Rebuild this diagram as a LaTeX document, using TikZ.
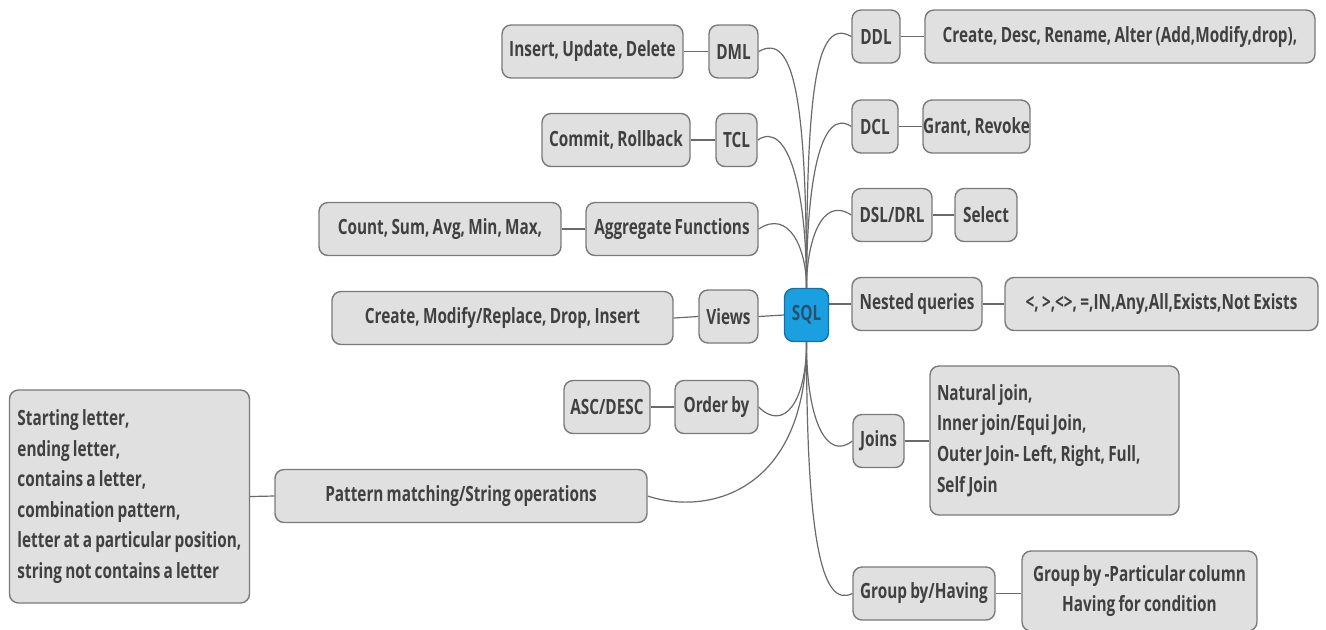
\documentclass[tikz,border=0pt]{standalone}
\usepackage{fontspec}
\setsansfont{Open Sans}[FakeStretch=0.73, WordSpace=0.8]
\definecolor{boxfill}{HTML}{E0E0E0}
\definecolor{boxline}{HTML}{7A7A7A}
\definecolor{boxtext}{HTML}{404040}
\definecolor{wirecol}{HTML}{6A6A6A}
\definecolor{sqlblue}{HTML}{1AA0E0}
\definecolor{sqlline}{HTML}{1670A8}
\definecolor{sqltext}{HTML}{2B4F6E}
\tikzset{
    topic/.style={draw=boxline, fill=boxfill, line width=0.7pt, rounded corners=4.5pt,
        minimum height=26.5pt, inner sep=0pt, align=center, text=boxtext,
        font=\fontsize{10.5}{15.3}\selectfont\sffamily\bfseries},
    root/.style={topic, fill=sqlblue, draw=sqlline},
    wire/.style={draw=wirecol, line width=0.6pt},
}

\begin{document}
\begin{tikzpicture}[x=0.5pt, y=-0.5pt]
                \useasboundingbox (0,0) rectangle (1326,629);
                % Centre and left side:
                \node[root, minimum width=22pt, text=sqltext] (sql) at (806.5,315) {SQL};
                \node[topic, minimum width=24.5pt] (dml) at (733.5,51.5) {DML};
                \node[topic, minimum width=90.5pt] (dmlops) at (592.5,51.5) {Insert, Update, Delete};
                \node[topic, minimum width=20.5pt] (tcl) at (736.5,140) {TCL};
                \node[topic, minimum width=74pt] (tclops) at (616,140) {Commit, Rollback};
                \node[topic, minimum width=86pt] (agg) at (672,229) {Aggregate Functions};
                \node[topic, minimum width=121pt] (aggops) at (440,229) {Count, Sum, Avg, Min, Max,};
                \node[topic, minimum width=29.5pt] (views) at (728.5,316.5) {Views};
                \node[topic, minimum width=170.5pt] (viewops) at (502.5,318) {Create, Modify/Replace, Drop, Insert};
                \node[topic, minimum width=41.5pt] (order) at (716.5,407) {Order by};
                \node[topic, minimum width=43pt] (ascdesc) at (607,407) {ASC/DESC};
                \node[topic, minimum width=186pt] (pattern) at (461,496) {Pattern matching/String operations};
                \node[topic, align=flush left, text width=112pt, inner xsep=4pt, minimum height=106.5pt] (patops) at (129.5,496.5)
                    {Starting letter,\\ending letter,\\contains a letter,\\combination pattern,\\letter at a particular position,\\string not contains a letter};
                % Right side:
                \node[topic, minimum width=24pt] (ddl) at (876,36.5) {DDL};
                \node[topic, minimum width=195pt] (ddlops) at (1120,36.5) {Create, Desc, Rename, Alter (Add,Modify,drop),};
                \node[topic, minimum width=23pt] (dcl) at (875,126.5) {DCL};
                \node[topic, minimum width=53.5pt] (dclops) at (976.5,126.5) {Grant, Revoke};
                \node[topic, minimum width=40pt] (dsl) at (892,215) {DSL/DRL};
                \node[topic, minimum width=31pt] (select) at (986,215) {Select};
                \node[topic, minimum width=65pt] (nested) at (917,304) {Nested queries};
                \node[topic, minimum width=156.5pt] (nestops) at (1161.5,304) {<, >,<>, =,IN,Any,All,Exists,Not Exists};
                \node[topic, minimum width=25.5pt] (joins) at (878.5,441) {Joins};
                \node[topic, align=flush left, text width=117.5pt, inner xsep=3.5pt, minimum height=74.5pt] (joinops) at (1054.5,440.5)
                    {Natural join,\\Inner join/Equi Join,\\Outer Join- Left, Right, Full,\\Self Join};
                \node[topic, minimum width=71pt] (group) at (924,593.5) {Group by/Having};
                \node[topic, minimum width=117.5pt, minimum height=40pt] (groupops) at (1139.5,591)
                    {Group by -Particular column\\Having for condition};
                % Wires from the centre:
                \draw[wire] (sql.north) .. controls +(0,-190) and +(35,-20) .. (dml.east);
                \draw[wire] (sql.north) .. controls +(0,-100) and +(30,-20) .. (tcl.east);
                \draw[wire] (sql.north) .. controls +(0,-40) and +(30,-20) .. (agg.east);
                \draw[wire] (sql.north) .. controls +(0,-200) and +(-35,-20) .. (ddl.west);
                \draw[wire] (sql.north) .. controls +(0,-110) and +(-30,-20) .. (dcl.west);
                \draw[wire] (sql.north) .. controls +(0,-45) and +(-30,-20) .. (dsl.west);
                \draw[wire] (sql.south) .. controls +(0,60) and +(25,25) .. (order.east);
                \draw[wire] (sql.south) .. controls +(0,150) and +(60,20) .. (pattern.east);
                \draw[wire] (sql.south) .. controls +(0,80) and +(-25,20) .. (joins.west);
                \draw[wire] (sql.south) .. controls +(0,200) and +(-30,15) .. (group.west);
                \draw[wire] (sql.west) -- (views.east);
                \draw[wire] (nested.west -| sql.east) -- (nested.west);
                % Wires to the leaves:
                \draw[wire] (dml.west) -- (dmlops.east);
                \draw[wire] (tcl.west) -- (tclops.east);
                \draw[wire] (agg.west) -- (aggops.east);
                \draw[wire] (views.west) -- (viewops.east);
                \draw[wire] (order.west) -- (ascdesc.east);
                \draw[wire] (pattern.west) -- (patops.east);
                \draw[wire] (ddl.east) -- (ddlops.west);
                \draw[wire] (dcl.east) -- (dclops.west);
                \draw[wire] (dsl.east) -- (select.west);
                \draw[wire] (nested.east) -- (nestops.west);
                \draw[wire] (joins.east) -- (joins.east -| joinops.west);
                \draw[wire] (group.east) -- (group.east -| groupops.west);
            \end{tikzpicture}
\end{document}
